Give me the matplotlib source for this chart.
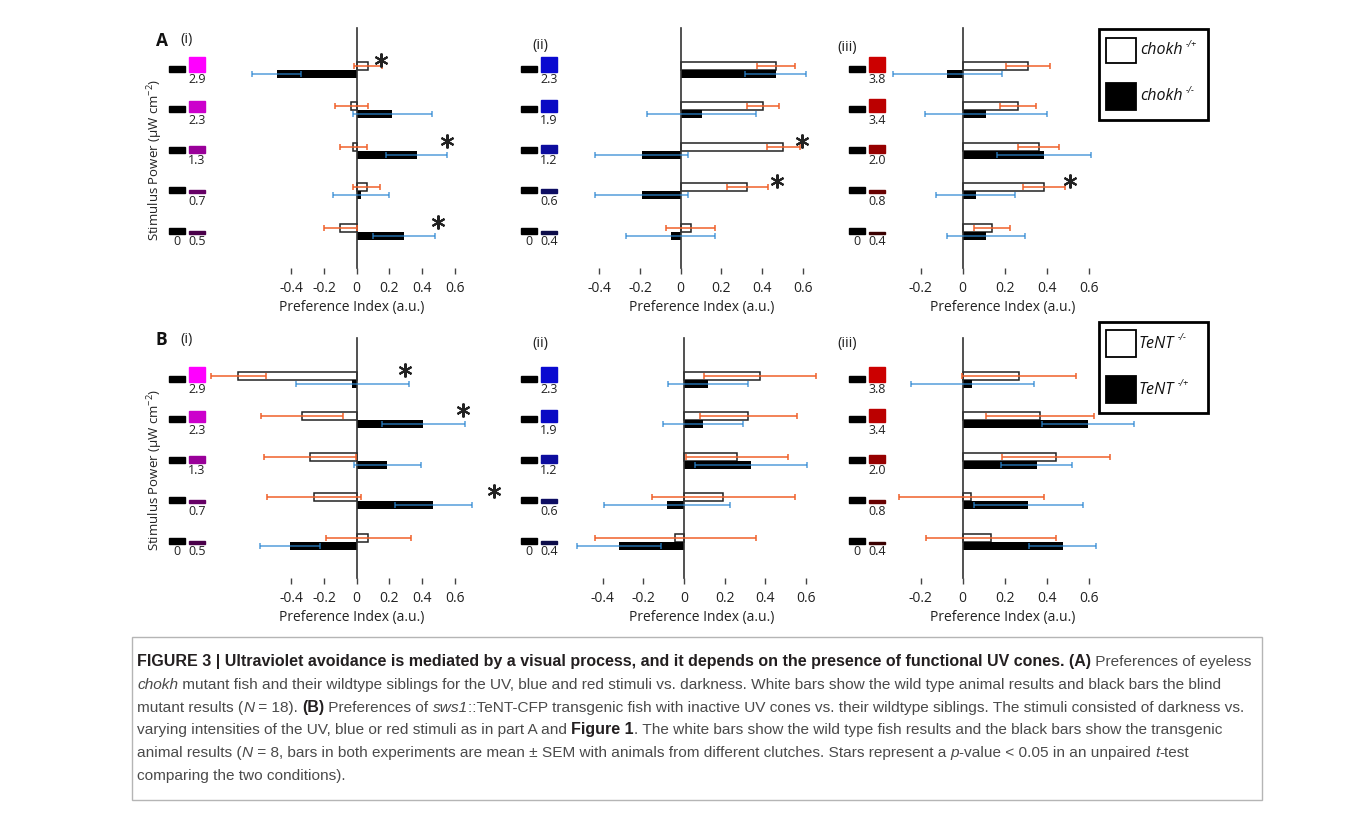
import numpy as np
import matplotlib
matplotlib.use("Agg")
import matplotlib.pyplot as plt
from matplotlib.patches import Rectangle
import matplotlib.transforms as mtransforms

# stimulus powers (uW cm-2), top row first
uv_power = [2.9, 2.3, 1.3, 0.7, 0.5]
blue_power = [2.3, 1.9, 1.2, 0.6, 0.4]
red_power = [3.8, 3.4, 2.0, 0.8, 0.4]

# A: chokh -/+ (white) and chokh -/- (black), preference index + SEM
chokh_het_uv = [0.067, -0.033, -0.02, 0.06, -0.10]
chokh_het_uv_sem = [0.085, 0.10, 0.085, 0.08, 0.10]
chokh_mut_uv = [-0.49, 0.218, 0.367, 0.025, 0.29]
chokh_mut_uv_sem = [0.15, 0.24, 0.186, 0.17, 0.19]
chokh_het_blue = [0.467, 0.403, 0.505, 0.328, 0.049]
chokh_het_blue_sem = [0.093, 0.078, 0.083, 0.102, 0.119]
chokh_mut_blue = [0.467, 0.103, -0.192, -0.192, -0.049]
chokh_mut_blue_sem = [0.15, 0.267, 0.228, 0.23, 0.22]
chokh_het_red = [0.308, 0.264, 0.36, 0.386, 0.138]
chokh_het_red_sem = [0.104, 0.085, 0.097, 0.099, 0.084]
chokh_mut_red = [-0.073, 0.111, 0.386, 0.062, 0.109]
chokh_mut_red_sem = [0.257, 0.288, 0.223, 0.187, 0.184]

# B: TeNT -/- (white) and TeNT -/+ (black)
tent_wt_uv = [-0.724, -0.333, -0.286, -0.261, 0.071]
tent_wt_uv_sem = [0.17, 0.25, 0.28, 0.285, 0.26]
tent_tg_uv = [-0.027, 0.408, 0.188, 0.469, -0.408]
tent_tg_uv_sem = [0.345, 0.256, 0.206, 0.235, 0.185]
tent_wt_blue = [0.372, 0.316, 0.259, 0.193, -0.043]
tent_wt_blue_sem = [0.276, 0.239, 0.25, 0.352, 0.396]
tent_tg_blue = [0.116, 0.095, 0.33, -0.082, -0.321]
tent_tg_blue_sem = [0.197, 0.196, 0.275, 0.31, 0.207]
tent_wt_red = [0.269, 0.367, 0.443, 0.04, 0.134]
tent_wt_red_sem = [0.27, 0.256, 0.255, 0.344, 0.31]
tent_tg_red = [0.046, 0.593, 0.351, 0.311, 0.474]
tent_tg_red_sem = [0.293, 0.217, 0.168, 0.257, 0.16]

# significance stars: (row index from top, x value)
stars_A_uv = [(0, 0.15), (2, 0.55), (4, 0.50)]
stars_A_blue = [(2, 0.595), (3, 0.472)]
stars_A_red = [(3, 0.509)]
stars_B_uv = [(0, 0.296), (1, 0.653), (3, 0.837)]
stars_B_blue = []
stars_B_red = []

ticks_i = [-0.4, -0.2, 0, 0.2, 0.4, 0.6]
ticks_ii = [-0.4, -0.2, 0, 0.2, 0.4, 0.6]
ticks_iii = [-0.2, 0, 0.2, 0.4, 0.6]

uv_colors = ["#ff00ff", "#cc00cc", "#990099", "#660066", "#4a004a"]
blue_colors = ["#0a0ad0", "#0a0ac4", "#0d0d9e", "#0d0d62", "#0d0d4a"]
red_colors = ["#cc0000", "#bb0000", "#960000", "#680000", "#3a0000"]

ORANGE = "#f0602a"
BLUE = "#2a86d2"
W, H = 1358, 818

plt.rcParams["font.family"] = ["Open Sans", "DejaVu Sans"]
plt.rcParams["axes.unicode_minus"] = False
plt.rcParams["mathtext.default"] = "regular"

fig = plt.figure(figsize=(W / 100, H / 100), dpi=100)
canvas = fig.add_axes([0, 0, 1, 1])
canvas.set_xlim(0, W)
canvas.set_ylim(H, 0)
canvas.axis("off")
renderer = fig.canvas.get_renderer()


def text_w(txt, **kw):
    # width in pixels, measured between two bars so that spaces count
    t = canvas.text(0, 0, "|" + txt + "|", **kw)
    w1 = t.get_window_extent(renderer).width
    t.remove()
    t = canvas.text(0, 0, "||", **kw)
    w2 = t.get_window_extent(renderer).width
    t.remove()
    return w1 - w2


def px_axes(l, t, r, b):
    return fig.add_axes([l / W, 1 - b / H, (r - l) / W, (b - t) / H])


cols = [
    dict(left=200, right=500, scale=163.5, zero=(356.7, 356.7), ticks=ticks_i,
         icon_x=169, powers=uv_power, colors=uv_colors, tag="(i)", tag_x=187, xlab=352),
    dict(left=560, right=840, scale=203.5, zero=(680.7, 684.0), ticks=ticks_ii,
         icon_x=521, powers=blue_power, colors=blue_colors, tag="(ii)", tag_x=540, xlab=702),
    dict(left=880, right=1140, scale=211.0, zero=(962.7, 962.7), ticks=ticks_iii,
         icon_x=849, powers=red_power, colors=red_colors, tag="(iii)", tag_x=847, xlab=1003),
]
rows = [
    dict(top=28, bottom=268, tag="A", tag_y=(41, 40, 46, 47),
         data=[(chokh_het_uv, chokh_het_uv_sem, chokh_mut_uv, chokh_mut_uv_sem, stars_A_uv),
               (chokh_het_blue, chokh_het_blue_sem, chokh_mut_blue, chokh_mut_blue_sem, stars_A_blue),
               (chokh_het_red, chokh_het_red_sem, chokh_mut_red, chokh_mut_red_sem, stars_A_red)]),
    dict(top=338, bottom=578, tag="B", tag_y=(340, 340, 344, 344),
         data=[(tent_wt_uv, tent_wt_uv_sem, tent_tg_uv, tent_tg_uv_sem, stars_B_uv),
               (tent_wt_blue, tent_wt_blue_sem, tent_tg_blue, tent_tg_blue_sem, stars_B_blue),
               (tent_wt_red, tent_wt_red_sem, tent_tg_red, tent_tg_red_sem, stars_B_red)]),
]

row_px = 40.5  # pixels per row unit
for ri, row in enumerate(rows):
    canvas.text(161.5, row["tag_y"][0], row["tag"], fontsize=12.5, fontweight="bold",
                ha="center", va="center", color="#111")
    canvas.text(155, row["top"] + 132, "Stimulus Power (\u03bcW cm$^{-2}$)", rotation=90,
                fontsize=9.5, ha="center", va="center", color="#222")
    for ci, col in enumerate(cols):
        white, white_sem, black, black_sem, stars = row["data"][ci]
        zero = col["zero"][ri]
        ax = px_axes(col["left"], row["top"], col["right"], row["bottom"])
        ax.patch.set_visible(False)
        n = len(white)
        y = np.arange(n)[::-1].astype(float)

        ax.barh(y + 0.1, white, height=0.2, color="white", edgecolor="#222",
                linewidth=1.1, zorder=2)
        ax.barh(y - 0.1, black, height=0.2, color="black", zorder=2)
        ax.errorbar(white, y + 0.1, xerr=white_sem, fmt="none", ecolor=ORANGE,
                    elinewidth=1.1, capsize=2.5, capthick=1.1, zorder=3)
        ax.errorbar(black, y - 0.1, xerr=black_sem, fmt="none", ecolor=BLUE,
                    elinewidth=1.1, capsize=2.5, capthick=1.1, zorder=3, alpha=0.8)
        for r, sx in stars:
            ax.plot(sx, y[r] + 0.25, marker=(6, 2, 0), ms=10, mew=1.5, color="#222",
                    clip_on=False, zorder=4)

        ax.set_xlim((col["left"] - zero) / col["scale"], (col["right"] - zero) / col["scale"])
        ax.set_ylim(-36.3 / row_px, 4 + 41.7 / row_px)
        for s in ["top", "right", "bottom"]:
            ax.spines[s].set_visible(False)
        ax.spines["left"].set_position(("data", 0))
        ax.spines["left"].set_color("#333")
        ax.spines["left"].set_linewidth(1.2)
        ax.set_yticks([])
        ax.set_xticks(col["ticks"])
        ax.set_xticklabels(["0" if t == 0 else f"{t:.1f}" for t in col["ticks"]])
        ax.tick_params(axis="x", direction="out", length=4, width=1, color="#444",
                       pad=5, labelsize=10, labelcolor="#222")
        canvas.text(col["xlab"], row["bottom"] + 39, "Preference Index (a.u.)",
                    fontsize=10, ha="center", va="center", color="#222")
        canvas.text(col["tag_x"], row["tag_y"][ci + 1], col["tag"], fontsize=10.5,
                    ha="center", va="center", color="#222")

        # stimulus icons: dark side and light side at each power
        tr = mtransforms.blended_transform_factory(canvas.transData, ax.transData)
        pmax = max(col["powers"])
        for yi, p, c in zip(y, col["powers"], col["colors"]):
            canvas.add_patch(Rectangle((col["icon_x"], yi - 0.05), 16, 0.148,
                                       transform=tr, color="black", clip_on=False))
            canvas.add_patch(Rectangle((col["icon_x"] + 20, yi - 0.05), 16,
                                       0.356 * p / pmax, transform=tr, color=c,
                                       clip_on=False))
            canvas.text(col["icon_x"] + 28, yi - 0.254, f"{p:.1f}", transform=tr,
                        fontsize=9, ha="center", va="center", color="#222")
        canvas.text(col["icon_x"] + 8, y[-1] - 0.254, "0", transform=tr,
                    fontsize=9, ha="center", va="center", color="#222")

# legends
legends = [
    (29, 120, 38, 25, 83, 27, ("chokh", "-/+"), ("chokh", "-/-"), 1140),
    (322, 413, 330, 27, 376, 27, ("TeNT", "-/-"), ("TeNT", "-/+"), 1139),
]
for top, bot, wy, wh, by, bh, lab1, lab2, tx in legends:
    canvas.add_patch(Rectangle((1099, top), 109, bot - top, fill=False, lw=2, ec="black"))
    canvas.add_patch(Rectangle((1106, wy), 30, wh, fc="white", ec="black", lw=1.3))
    canvas.add_patch(Rectangle((1106, by), 30, bh, fc="black", ec="black", lw=1.3))
    for (name, sup), cy in ((lab1, wy + wh / 2), (lab2, by + bh / 2)):
        canvas.text(tx, cy, name, fontsize=11.5, fontstyle="italic", ha="left",
                    va="center", color="#111")
        sx = tx + text_w(name, fontsize=11.5, fontstyle="italic") + 3
        canvas.text(sx, cy - 6, sup, fontsize=6.5, fontstyle="italic", ha="left",
                    va="center", color="#111")

# caption
CAP_FONT = ["Liberation Sans", "DejaVu Sans"]
n_, b_, i_ = ("normal", "normal"), ("bold", "normal"), ("normal", "italic")
caption = [
    [("FIGURE 3 | Ultraviolet avoidance is mediated by a visual process, and it depends on the presence of functional UV cones. (A)", b_),
     (" Preferences of eyeless", n_)],
    [("chokh", i_),
     (" mutant fish and their wildtype siblings for the UV, blue and red stimuli vs. darkness. White bars show the wild type animal results and black bars the blind", n_)],
    [("mutant results (", n_), ("N", i_), (" = 18). ", n_), ("(B)", b_), (" Preferences of ", n_),
     ("sws1", i_), ("::TeNT-CFP transgenic fish with inactive UV cones vs. their wildtype siblings. The stimuli consisted of darkness vs.", n_)],
    [("varying intensities of the UV, blue or red stimuli as in part A and ", n_), ("Figure 1", b_),
     (". The white bars show the wild type fish results and the black bars show the transgenic", n_)],
    [("animal results (", n_), ("N", i_),
     (" = 8, bars in both experiments are mean \u00b1 SEM with animals from different clutches. Stars represent a ", n_),
     ("p", i_), ("-value < 0.05 in an unpaired ", n_), ("t", i_), ("-test", n_)],
    [("comparing the two conditions).", n_)],
]


def run_w(txt, size, wt, st):
    return text_w(txt, fontsize=size, fontweight=wt, fontstyle=st, family=CAP_FONT)


# regular size fitted to line 3, bold a little larger (reference bold runs wider)
base = 11.0
w3 = sum(run_w(t, base, *s) for t, s in caption[2])
size_n = base * (1243 - 137) / w3
wb = run_w(caption[0][0][0], base, "bold", "normal")
wr = run_w(caption[0][1][0], size_n, "normal", "normal")
size_b = min(size_n * 1.05, base * (1250 - 137 - wr) / wb)

canvas.add_patch(Rectangle((132, 637), 1130, 163, fill=False, ec="#b5b5b5", lw=1))
for k, line in enumerate(caption):
    x = 137
    yb = 666 + 22.8 * k
    for txt, (wt, st) in line:
        sz = size_b if wt == "bold" else size_n
        canvas.text(x, yb, txt, fontsize=sz, fontweight=wt, fontstyle=st,
                    family=CAP_FONT, ha="left", va="baseline",
                    color="#231f20" if wt == "bold" else "#4a4a4a")
        x += run_w(txt, sz, wt, st)

fig.savefig("out.png", dpi=100)
